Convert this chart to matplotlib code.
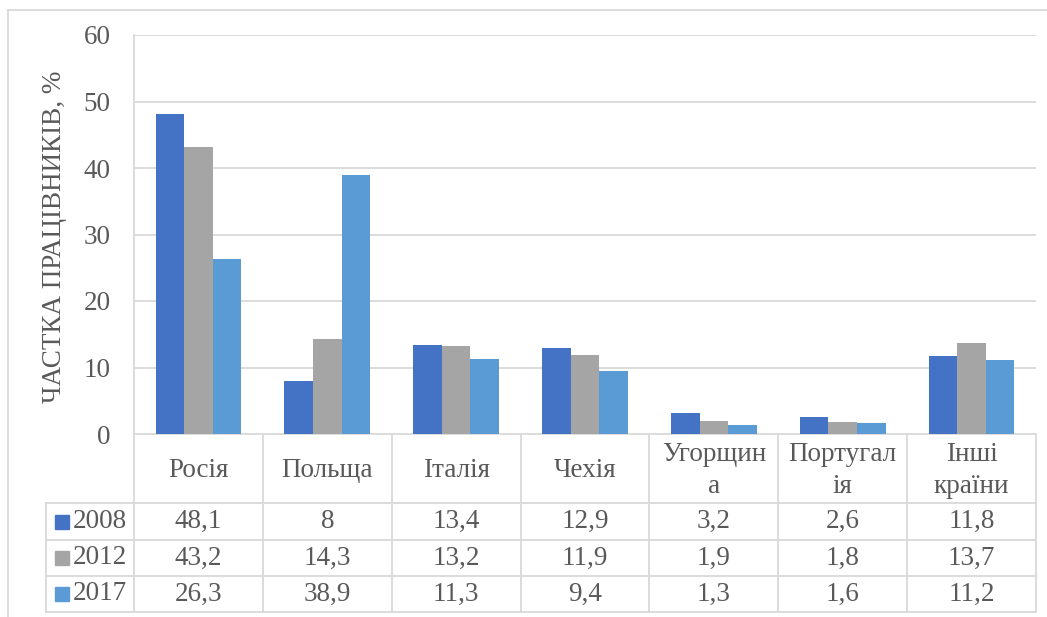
import matplotlib
matplotlib.use("Agg")
import matplotlib.pyplot as plt
import numpy as np
from matplotlib.lines import Line2D
from matplotlib.patches import Rectangle

categories = ["Росія", "Польща", "Італія", "Чехія", "Угорщин\nа", "Португал\nія", "Інші\nкраїни"]
series_names = ["2008", "2012", "2017"]
v2008 = [48.1, 8, 13.4, 12.9, 3.2, 2.6, 11.8]
v2012 = [43.2, 14.3, 13.2, 11.9, 1.9, 1.8, 13.7]
v2017 = [26.3, 38.9, 11.3, 9.4, 1.3, 1.6, 11.2]
yticks = [0, 10, 20, 30, 40, 50, 60]
ylabel = "ЧАСТКА ПРАЦІВНИКІВ, %"

colors = ["#4472C4", "#A5A5A5", "#5B9BD5"]
grid_c = "#D9D9D9"
text_c = "#595959"
FS = 19.5
plt.rcParams['font.family'] = ['Liberation Serif', 'DejaVu Serif']

W, H = 1047, 617
fig = plt.figure(figsize=(W/100, H/100), dpi=100)

ov = fig.add_axes([0, 0, 1, 1])
ov.set_xlim(0, W)
ov.set_ylim(H, 0)
ov.axis("off")

L, R, T, B = 134, 1036, 35, 434
ax = fig.add_axes([L/W, 1-B/H, (R-L)/W, (B-T)/H])
n = len(categories)
x = np.arange(n)
bw = 0.222
for i, (vals, c) in enumerate(zip([v2008, v2012, v2017], colors)):
    ax.bar(x + (i-1)*bw, vals, width=bw, color=c, zorder=3)
ax.set_xlim(-0.5, n-0.5)
ax.set_ylim(0, 60)
ax.set_yticks(yticks)
ax.set_yticklabels([str(t) for t in yticks], fontsize=FS, color=text_c)
ax.tick_params(axis='y', length=0, pad=17)
ax.set_xticks([])
ax.grid(axis='y', color=grid_c, lw=1.3, zorder=0)
for s in ["top", "right", "bottom"]:
    ax.spines[s].set_visible(False)
ax.spines["left"].set_color(grid_c)
ax.spines["left"].set_linewidth(1.3)
ov.text(55, 237, ylabel, rotation=90, ha='center', va='center', fontsize=FS, color=text_c)

# outer border
ov.add_line(Line2D([8, W], [10, 10], color=grid_c, lw=1.3))
ov.add_line(Line2D([8, 8], [10, H], color=grid_c, lw=1.3))

# table
colw = (R-L)/n
rows_y = [B, 503, 540, 576, 612]
leg_x = 46
ov.add_line(Line2D([L, R], [B, B], color=grid_c, lw=1.3))
for yy in rows_y[1:]:
    ov.add_line(Line2D([leg_x, R], [yy, yy], color=grid_c, lw=1.3))
for k in range(n+1):
    xx = L + k*colw
    ov.add_line(Line2D([xx, xx], [B, rows_y[-1]], color=grid_c, lw=1.3))
ov.add_line(Line2D([leg_x, leg_x], [rows_y[1], rows_y[-1]], color=grid_c, lw=1.3))

for k, cat in enumerate(categories):
    cx = L + (k+0.5)*colw
    ov.text(cx, (rows_y[0]+rows_y[1])/2 + 2, cat, ha='center', va='center', fontsize=FS,
            color=text_c, linespacing=1.4)

for r, (name, vals, c) in enumerate(zip(series_names, [v2008, v2012, v2017], colors)):
    cy = (rows_y[r+1] + rows_y[r+2])/2
    ov.add_patch(Rectangle((55, cy-7), 14, 14, color=c))
    ov.text(73, cy, name, ha='left', va='center', fontsize=FS, color=text_c)
    for k, v in enumerate(vals):
        cx = L + (k+0.5)*colw
        ov.text(cx, cy, f"{v:g}".replace('.', ','), ha='center', va='center',
                fontsize=FS, color=text_c)

fig.savefig("out.png", dpi=100)
